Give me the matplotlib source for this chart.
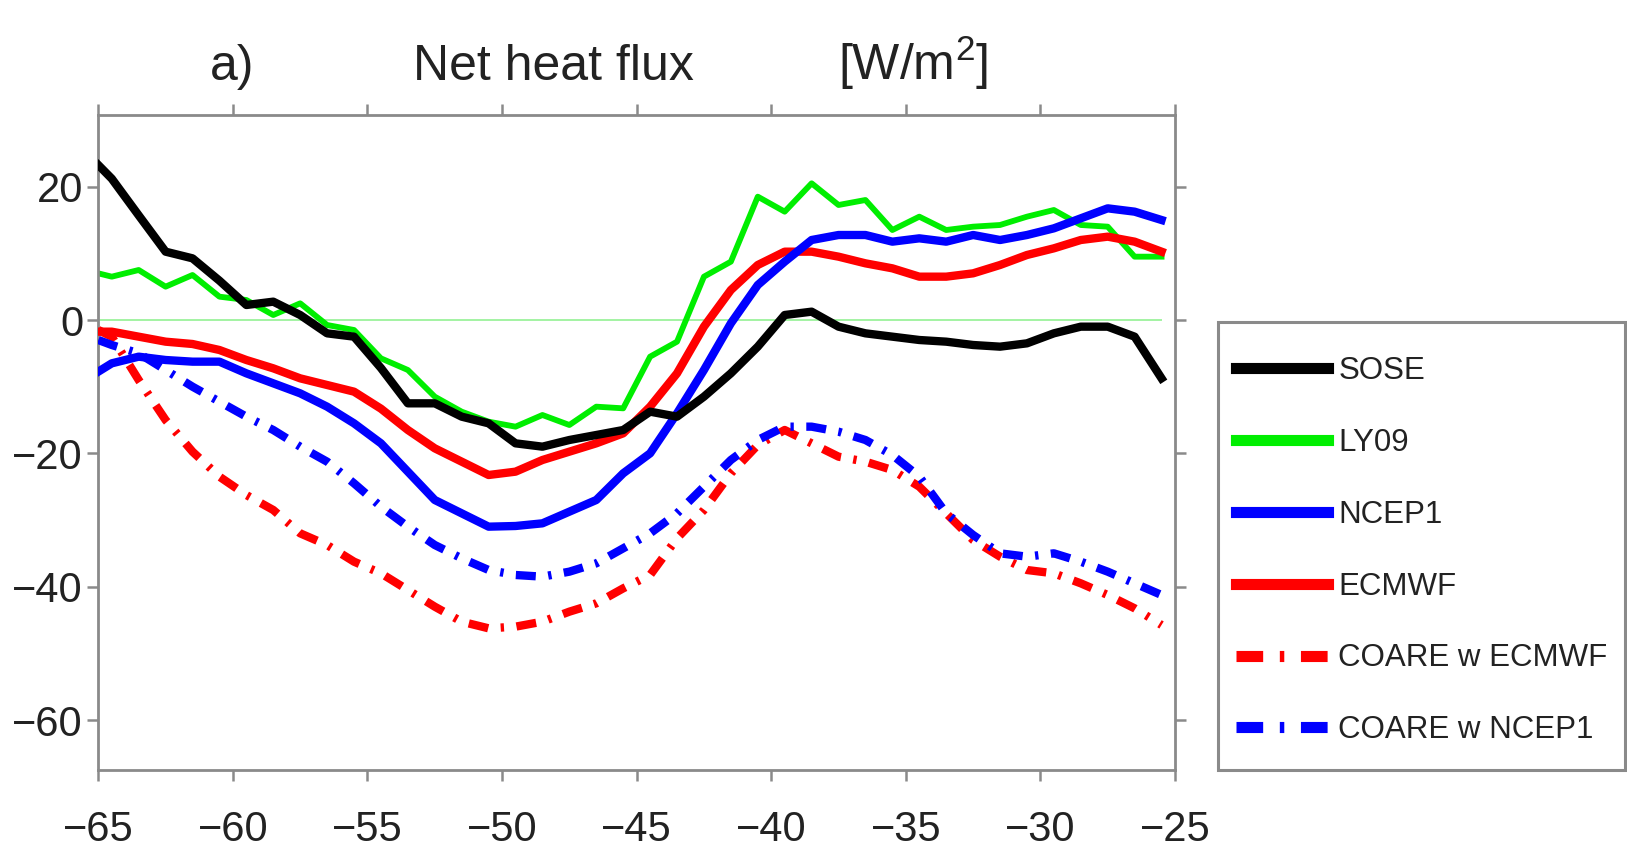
import matplotlib
matplotlib.use("Agg")
import matplotlib.pyplot as plt
from matplotlib.patches import Rectangle

plt.rcParams['font.family'] = ['Liberation Sans', 'DejaVu Sans']
plt.rcParams['mathtext.fontset'] = 'custom'
plt.rcParams['mathtext.rm'] = 'Liberation Sans'

lon = [-65, -64.5, -63.5, -62.5, -61.5, -60.5, -59.5, -58.5, -57.5, -56.5,
       -55.5, -54.5, -53.5, -52.5, -51.5, -50.5, -49.5, -48.5, -47.5, -46.5,
       -45.5, -44.5, -43.5, -42.5, -41.5, -40.5, -39.5, -38.5, -37.5, -36.5,
       -35.5, -34.5, -33.5, -32.5, -31.5, -30.5, -29.5, -28.5, -27.5, -26.5, -25.5]

sose = [23.25, 21.2, 15.7, 10.25, 9.25, 5.9, 2.25, 2.75, 0.75, -2.0,
        -2.5, -7.2, -12.5, -12.5, -14.5, -15.5, -18.5, -19, -18, -17.25,
        -16.5, -13.75, -14.5, -11.5, -8, -4, 0.75, 1.25, -1.0, -2.0,
        -2.5, -3, -3.25, -3.75, -4, -3.5, -2, -1, -1, -2.5, -8.75]

ly09 = [7.0, 6.5, 7.5, 5.0, 6.75, 3.5, 3.0, 0.75, 2.5, -0.75,
        -1.5, -5.75, -7.5, -11.5, -13.75, -15.25, -16, -14.25, -15.75, -13,
        -13.25, -5.5, -3.25, 6.5, 8.75, 18.5, 16.25, 20.5, 17.25, 18,
        13.5, 15.5, 13.5, 14, 14.25, 15.5, 16.5, 14.25, 14, 9.5, 9.5]

ncep1 = [-7.75, -6.5, -5.5, -6, -6.25, -6.25, -8, -9.5, -11, -13,
         -15.5, -18.5, -22.75, -27, -29, -31, -30.9, -30.5, -28.75, -27,
         -23, -20, -14, -7.5, -0.5, 5.25, 8.75, 12, 12.75, 12.75,
         11.75, 12.25, 11.75, 12.75, 12, 12.75, 13.75, 15.25, 16.75, 16.25, 15]

ecmwf = [-1.75, -1.75, -2.5, -3.25, -3.6, -4.5, -6, -7.25, -8.75, -9.75,
         -10.75, -13.3, -16.5, -19.25, -21.25, -23.25, -22.75, -21, -19.75, -18.5,
         -17, -13, -8, -1, 4.5, 8.25, 10.25, 10.25, 9.5, 8.5,
         7.75, 6.5, 6.5, 7, 8.25, 9.75, 10.75, 12, 12.5, 11.75, 10.25]

coare_ecmwf = [-1.5, -2.5, -9, -15, -19.75, -23.5, -26.25, -28.5, -32, -33.75,
               -36.25, -38, -40.5, -43, -45.25, -46.25, -46, -45.25, -43.75, -42.5,
               -40.25, -38.25, -32.75, -28.5, -23, -18.75, -16.5, -18.5, -20.5, -21.25,
               -22.5, -25, -29, -33, -35.5, -37.5, -38, -39.5, -41.25, -43.25, -45.75]

coare_ncep1 = [-3, -3.75, -5, -7.5, -10, -12.25, -14.5, -16.5, -19, -21.25,
               -24.5, -28, -31, -33.75, -35.75, -37.5, -38.25, -38.5, -37.75, -36.5,
               -34.25, -32, -29, -25, -21, -18, -16, -16, -16.75, -18,
               -20.25, -23.5, -29, -32.25, -35, -35.5, -35, -36.25, -37.75, -39.5, -41.25]

W, H = 1627, 851
fig = plt.figure(figsize=(W / 100, H / 100), dpi=100)
ax = fig.add_axes([98.3 / W, 1 - 770 / H, (1175 - 98.3) / W, (770 - 115) / H])

ax.hlines(0, lon[0], lon[-1], color='#9cf29c', lw=1.3, zorder=1)

dd = (2.4, 1.5, 0.4, 1.5)
ax.plot(lon, ly09, color='#00ee00', lw=4.2, label='LY09', zorder=2)
ax.plot(lon, ecmwf, color='#ff0000', lw=6, label='ECMWF', zorder=3)
ax.plot(lon, ncep1, color='#0000ff', lw=6, label='NCEP1', zorder=3)
ax.plot(lon, sose, color='black', lw=6, label='SOSE', zorder=4)
ax.plot(lon, coare_ecmwf, color='#ff0000', lw=6, dashes=dd, dash_capstyle='butt',
        label='COARE w ECMWF', zorder=3)
ax.plot(lon, coare_ncep1, color='#0000ff', lw=6, dashes=dd, dash_capstyle='butt',
        label='COARE w NCEP1', zorder=3)

ax.set_xlim(-65, -25)
ax.set_ylim(-67.5, 30.75)
ax.set_xticks([-65, -60, -55, -50, -45, -40, -35, -30, -25])
ax.set_yticks([-60, -40, -20, 0, 20])

for s in ax.spines.values():
    s.set_color('#8a8a8a')
    s.set_linewidth(2)
ax.tick_params(direction='out', length=8, width=1.8, color='#8a8a8a',
               top=True, right=True, labelsize=30, labelcolor='#222222')
ax.tick_params(axis='x', pad=21)
ax.tick_params(axis='y', pad=3)

fig.text(232 / W, 1 - 80 / H, 'a)', fontsize=36, ha='center', va='baseline', color='#222222')
fig.text(553 / W, 1 - 80 / H, 'Net heat flux', fontsize=36, ha='center', va='baseline', color='#222222')
fig.text(913 / W, 1 - 80 / H, '[W/m$^{\\mathregular{2}}$]', fontsize=36, ha='center', va='baseline',
         color='#222222')

# legend frame drawn separately so its size matches the reference box
fig.patches.append(Rectangle((1218 / W, 1 - 770 / H), 407 / W, 448 / H,
                             transform=fig.transFigure, fill=False,
                             edgecolor='#8a8a8a', lw=2.2))

order = ['SOSE', 'LY09', 'NCEP1', 'ECMWF', 'COARE w ECMWF', 'COARE w NCEP1']
hmap = {l.get_label(): l for l in ax.get_lines()}
leg = fig.legend([hmap[k] for k in order], order, loc='upper left',
                 bbox_to_anchor=(1236 / W, 1 - 356 / H), borderaxespad=0,
                 borderpad=0, frameon=False, fontsize=22.5, handlelength=2.95,
                 handletextpad=0.32, labelspacing=1.34)
for h in leg.legend_handles:
    h.set_linewidth(8)
for t in leg.get_texts():
    t.set_color('#222222')

fig.savefig('out.png', dpi=100)
